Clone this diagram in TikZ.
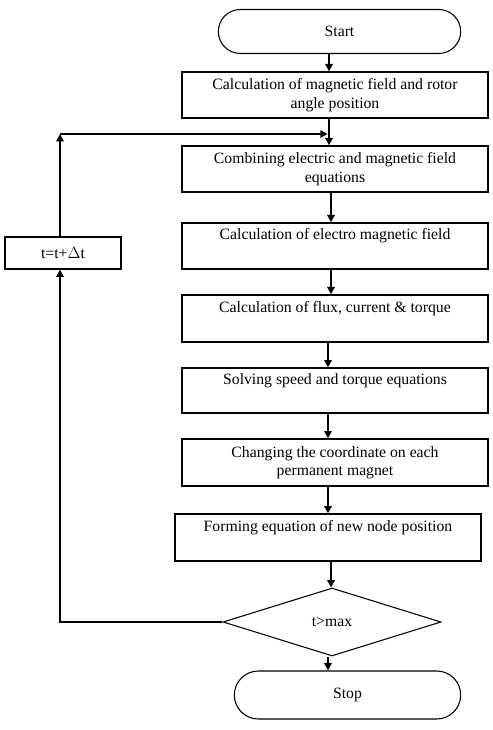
\documentclass[tikz,border=0pt]{standalone}
\usepackage{fontspec}
\setmainfont{Liberation Serif}
\usetikzlibrary{shapes.geometric,shapes.misc,arrows.meta}
\begin{document}
\begin{tikzpicture}[x=0.75pt,y=-0.75pt,
  every node/.style={font=\fontsize{11.8}{13.8}\selectfont},
  proc/.style={draw,line width=1pt,minimum width=229.5pt,minimum height=34.5pt,align=center,inner sep=1pt},
  term/.style={draw,line width=0.8pt,rounded rectangle,inner sep=1pt},
  arr/.style={line width=1.6pt,-{Triangle[length=5.5pt,width=5.5pt]}},
  ln/.style={line width=1.6pt}]
\useasboundingbox (0,0) rectangle (492,730);
\node[term,minimum width=183.75pt,minimum height=33pt] (start) at (339.5,31.5) {Start};
\node[proc] (b1) at (335,95) {Calculation of magnetic field and rotor\\angle position};
\node[proc] (b2) at (335,169) {Combining electric and magnetic field\\equations};
\node[proc] (b3) at (335,246) {Calculation of electro magnetic field\\\strut};
\node[proc,minimum height=35.25pt] (b4) at (335,318.5) {Calculation of flux, current \& torque\\\strut};
\node[proc,minimum height=33.75pt] (b5) at (335,390.5) {Solving speed and torque equations\\\strut};
\node[proc,minimum height=35.25pt] (b6) at (335,462.5) {Changing the coordinate on each\\permanent magnet};
\node[proc,minimum height=35.25pt] (b7) at (328,537.5) {Forming equation of new node position\\\strut};
\node[draw,line width=0.8pt,minimum width=87pt,minimum height=24pt,inner sep=1pt] (tb) at (63,253) {t=t+$\Delta$t};
\node[draw,line width=0.8pt,diamond,minimum width=163.5pt,minimum height=51pt,inner sep=0pt] (dia) at (332,622) {t>max};
\node[term,minimum width=171.75pt,minimum height=36pt] (stop) at (347.5,695) {Stop};
\coordinate (xa) at (329,0);
\coordinate (xb) at (331,0);
\coordinate (xc) at (328,0);
\coordinate (corner) at (60,134);
\coordinate (join) at (329,134);
\draw[arr] (start.south -| xa) -- (b1.north -| xa);
\draw[arr] (b1.south -| xa) -- (b2.north -| xa);
\draw[arr] (b2.south -| xb) -- (b3.north -| xb);
\draw[arr] (b3.south -| xb) -- (b4.north -| xb);
\draw[arr] (b4.south -| xc) -- (b5.north -| xc);
\draw[arr] (b5.south -| xc) -- (b6.north -| xc);
\draw[arr] (b6.south -| xc) -- (b7.north -| xc);
\draw[arr] (b7.south -| xb) -- (dia.north -| xb);
\draw[arr] (dia.south -| xc) -- (stop.north -| xc);
\draw[arr] (tb.north -| corner) -- (corner);
\draw[arr] (corner) -- ([xshift=-1pt]join);
\draw[arr] (dia.west) -| (tb.south -| corner);
\end{tikzpicture}
\end{document}
